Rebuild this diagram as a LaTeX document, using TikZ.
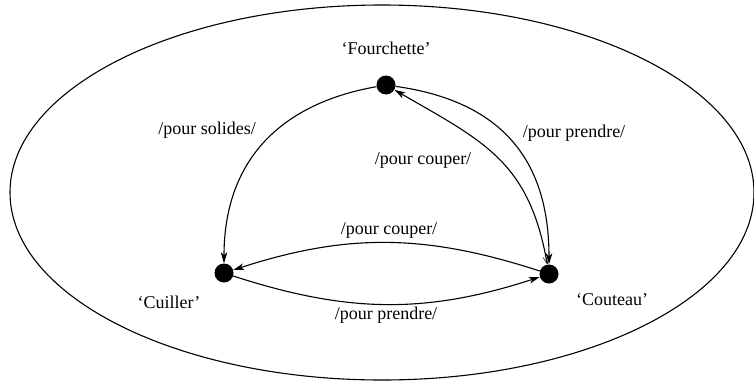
\documentclass[tikz,border=0pt]{standalone}
\usepackage{fontspec}
\setmainfont{Liberation Serif}
\usetikzlibrary{arrows.meta}
\begin{document}
\begin{tikzpicture}[x=1pt,y=1pt,
  state/.style={circle,fill=black,draw=none,minimum size=19pt,inner sep=0pt},
  lbl/.style={font=\fontsize{18}{20}\selectfont,inner sep=0pt},
  arr/.style={line width=1.1pt,-{Stealth[length=11pt,width=6.5pt,inset=3pt]}},
  bound/.style={line width=1.1pt}]
\useasboundingbox (0,0) rectangle (754,384);
\draw[bound] (382,191.5) ellipse [x radius=372, y radius=187.5];
\node[state] (F) at (386,299) {};
\node[state] (Cu) at (224,111) {};
\node[state] (Co) at (549,110) {};
\node[lbl] (lF) at (386,336) {‘Fourchette’};
\node[lbl] (lCu) at (169,82) {‘Cuiller’};
\node[lbl] (lCo) at (612,84) {‘Couteau’};
\draw[arr] (F) to[out=190,in=90,looseness=1.1] (Cu);
\node[lbl] (e1) at (207,254) {/pour solides/};
\draw[arr] (F) to[out=-8,in=90,looseness=1.15] (Co);
\draw[line width=1.1pt,{Straight Barb[length=7pt,width=6pt,line width=0.5pt]}-{Stealth[length=11pt,width=6.5pt,inset=3pt]}] (Co) to[out=100,in=-30,looseness=1.15] (F);
\node[lbl] (e2) at (574,251) {/pour prendre/};
\node[lbl] (e3) at (423,224) {/pour couper/};
\draw[arr] (Co) to[out=162,in=18] (Cu);
\draw[arr] (Cu) to[out=-18,in=198] (Co);
\node[lbl] (e4) at (389,154) {/pour couper/};
\node[lbl] (e5) at (386,69) {/pour prendre/};
\end{tikzpicture}
\end{document}
